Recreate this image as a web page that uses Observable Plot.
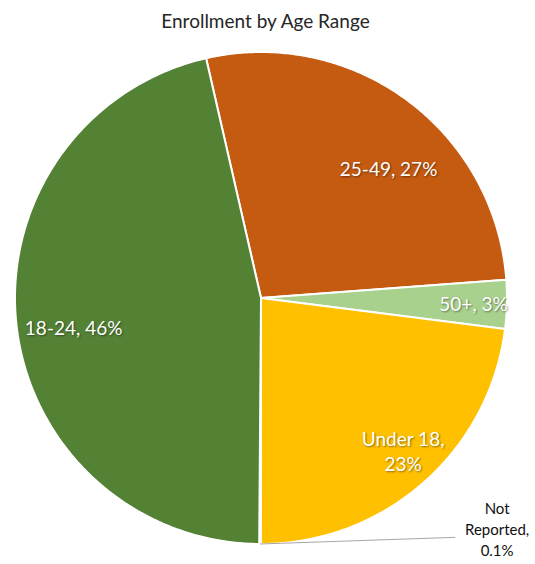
<!DOCTYPE html>
<html>
<head>
<meta charset="utf-8">
<script src="https://cdn.jsdelivr.net/npm/d3@7"></script>
<script src="https://cdn.jsdelivr.net/npm/@observablehq/plot@0.6"></script>
<style>
  html, body { margin: 0; padding: 0; background: #fff; }
  #title { height: 40px; line-height: 42px; text-align: center; font-family: Lato, "Open Sans", sans-serif; font-size: 19px; color: #262626; width: 535px; padding-right: 4px; box-sizing: border-box; }
  #chart svg text.inside { text-shadow: 1px 1px 2px rgba(0,0,0,0.45); }
</style>
</head>
<body>
<div id="title">Enrollment by Age Range</div>
<div id="chart"></div>
<script>
// ---- data ----
const categories = ["25-49", "50+", "Under 18", "Not Reported", "18-24"];
const values = [27.4, 3.2, 23.0, 0.1, 46.3];
const colors = ["#C55A11", "#A9D18E", "#FFC000", "#4472C4", "#548235"];
const startAngleDeg = -12.9; // rotation of the first slice (clockwise from 12 o'clock)

// ---- layout (styling only) ----
const W = 535, H = 524, CX = 260.5, CY = 257.5, R = 246;
const labelLayout = {
  "25-49":        {r: 0.741, nudge: 8.0,   fill: "white", lines: (c, p) => `${c}, ${p}`},
  "50+":          {r: 0.864, nudge: 0.0,   fill: "white", lines: (c, p) => `${c}, ${p}`},
  "Under 18":     {r: 0.848, nudge: -1.6,  fill: "white", lines: (c, p) => `${c},\n${p}`},
  "Not Reported": {r: 1.342, nudge: -45.9, fill: "#111", lines: (c, p) => `Not\nReported,\n${p}`, leader: {r: 1.253, nudge: -39.3}},
  "18-24":        {r: 0.771, nudge: -2.7,  fill: "white", lines: (c, p) => `${c}, ${p}`}
};

const total = d3.sum(values);
const fmtPct = v => (v < 1 ? d3.format(".1f")(v) : d3.format(".0f")(v)) + "%";
const rad = deg => deg * Math.PI / 180;
const polar = (deg, r) => ({x: r * Math.sin(rad(deg)), y: r * Math.cos(rad(deg))});

// slices
let acc = startAngleDeg;
const slices = categories.map((c, i) => {
  const a0 = acc, a1 = acc + values[i] / total * 360;
  acc = a1;
  return {cat: c, value: values[i], a0, a1, mid: (a0 + a1) / 2};
});

// polygon points for each slice (center -> arc -> center)
const polyPts = [];
for (const s of slices) {
  polyPts.push({cat: s.cat, x: 0, y: 0});
  const n = Math.max(2, Math.ceil((s.a1 - s.a0) / 0.5));
  for (let k = 0; k <= n; k++) {
    const p = polar(s.a0 + (s.a1 - s.a0) * k / n, 1);
    polyPts.push({cat: s.cat, x: p.x, y: p.y});
  }
  polyPts.push({cat: s.cat, x: 0, y: 0});
}

const labelRows = slices.map(s => {
  const L = labelLayout[s.cat];
  const p = polar(s.mid + L.nudge, L.r);
  return {cat: s.cat, x: p.x, y: p.y, text: L.lines(s.cat, fmtPct(s.value)), fill: L.fill};
});
const inside = labelRows.filter(d => d.fill === "white");
const outside = labelRows.filter(d => d.fill !== "white");

const leaders = slices.filter(s => labelLayout[s.cat].leader).map(s => {
  const L = labelLayout[s.cat].leader;
  const a = polar(s.mid, 1.0), b = polar(s.mid + L.nudge, L.r);
  return {x1: a.x, y1: a.y, x2: b.x, y2: b.y};
});

const chart = Plot.plot({
  width: W, height: H,
  margin: 0,
  x: {domain: [-1, 1], range: [CX - R, CX + R], axis: null},
  y: {domain: [-1, 1], range: [CY + R, CY - R], axis: null},
  color: {domain: categories, range: colors},
  style: {fontFamily: "Lato, 'Open Sans', sans-serif", background: "white"},
  marks: [
    Plot.line(polyPts, {x: "x", y: "y", z: "cat", fill: "cat", stroke: "white", strokeWidth: 2, strokeLinejoin: "round"}),
    Plot.link(leaders, {x1: "x1", y1: "y1", x2: "x2", y2: "y2", stroke: "#a6a6a6", strokeWidth: 1}),
    Plot.text(inside, {x: "x", y: "y", text: "text", fill: "white", fontSize: 19, lineHeight: 1.3}),
    Plot.text(outside, {x: "x", y: "y", text: "text", fill: "#111", fontSize: 15, lineHeight: 1.4})
  ]
});
// tag inside labels for the subtle shadow
chart.querySelectorAll("g[aria-label='text']").forEach((g, i) => { if (i === 0) g.querySelectorAll("text").forEach(t => t.classList.add("inside")); });
document.getElementById("chart").appendChild(chart);
</script>
</body>
</html>
